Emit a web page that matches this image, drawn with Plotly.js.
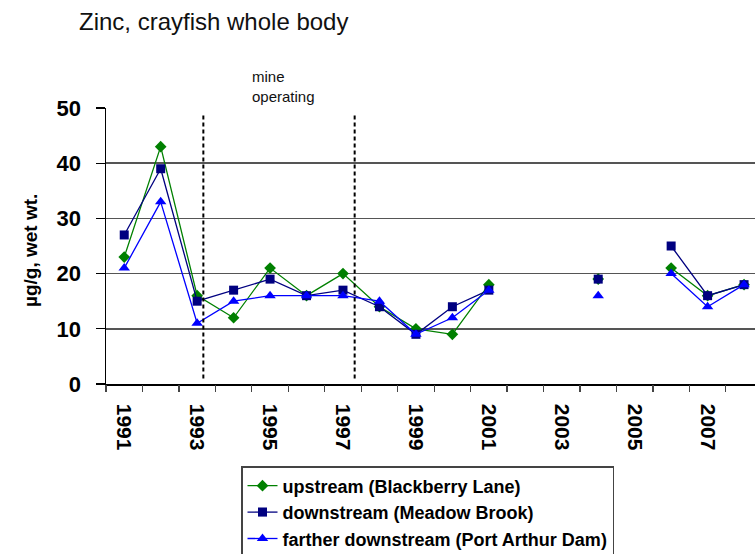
<!DOCTYPE html>
<html>
<head>
<meta charset="utf-8">
<script src="https://cdn.plot.ly/plotly-3.0.1.min.js"></script>
<style>html,body{margin:0;padding:0;background:#fff;}#chart{width:755px;height:554px;}</style>
</head>
<body>
<div id="chart"></div>
<script>
var years = [1991,1992,1993,1994,1995,1996,1997,1998,1999,2000,2001,2002,2003,2004,2005,2006,2007,2008];
var upstream = [23,43,16,12,21,16,20,14,10,9,18,null,null,19,null,21,16,18];
var downstream = [27,39,15,17,19,16,17,14,9,14,17,null,null,19,null,25,16,18];
var fartherDownstream = [21,33,11,15,16,16,16,15,9,12,17,null,null,16,null,20,14,18];
var tickYears = [1991,1993,1995,1997,1999,2001,2003,2005,2007];
var tickLabels = ['1991','1993','1995','1997','1999','2001','2003','2005','2007'];
var mineOperating = [1993.17, 1997.32];
var seriesNames = ['upstream (Blackberry Lane)','downstream (Meadow Brook)','farther downstream (Port Arthur Dam)'];

var boundaries = years.map(function(y){return y-0.5;}).concat([years[years.length-1]+0.5]);

var font = 'Arial, "Liberation Sans", sans-serif';
var traces = [
  {x: years, y: upstream, name: seriesNames[0], mode:'lines+markers', legendgroup:'a',
   line:{color:'#008000', width:1.3}, marker:{symbol:'diamond', size:9, color:'#008000'}, connectgaps:false},
  {x: years, y: downstream, name: seriesNames[1], mode:'lines+markers', legendgroup:'b',
   line:{color:'#000080', width:1.3}, marker:{symbol:'square', size:9, color:'#000080'}, connectgaps:false},
  {x: years, y: fartherDownstream, name: seriesNames[2], mode:'lines+markers', legendgroup:'c',
   line:{color:'#0000FF', width:1.3}, marker:{symbol:'triangle-up', size:10, color:'#0000FF'}, connectgaps:false},
  {x: boundaries, y: boundaries.map(function(){return null;}), xaxis:'x2', showlegend:false, hoverinfo:'skip', mode:'lines'}
];

var shapes = mineOperating.map(function(x){
  return {type:'line', xref:'x', yref:'y', x0:x, x1:x, y0:1, y1:48.7,
          line:{color:'#000', width:2, dash:'4px,3px'}};
});

var layout = {
  width:755, height:554,
  margin:{l:106, r:0, t:108, b:170, autoexpand:false},
  paper_bgcolor:'#fff', plot_bgcolor:'#fff',
  font:{family:font, color:'#000'},
  title:{text:'Zinc, crayfish whole body', font:{family:font, size:24, color:'#111'},
         xref:'container', yref:'container', x:79/755, xanchor:'left', y:1-22/554, yanchor:'middle'},
  xaxis:{range:[1990.5, 2008.3], tickmode:'array', tickvals:tickYears, ticktext:tickLabels,
         tickangle:90, ticks:'outside', ticklen:14, tickcolor:'rgba(0,0,0,0)',
         tickfont:{family:font, size:21, color:'#000', weight:'bold'},
         showgrid:false, zeroline:false, showline:true, linecolor:'#000', linewidth:1.5},
  xaxis2:{overlaying:'x', range:[1990.5, 2008.3], tickmode:'array', tickvals:boundaries,
          showticklabels:false, ticks:'outside', ticklen:7, tickcolor:'#444', tickwidth:1.2,
          showgrid:false, zeroline:false, showline:false, side:'bottom'},
  yaxis:{range:[0,50], tickvals:[0,10,20,30,40,50], ticks:'outside', ticklen:9, tickcolor:'#000', tickwidth:1.2,
         ticklabelstandoff:10,
         tickfont:{family:font, size:22, color:'#000', weight:'bold'},
         showgrid:true, gridcolor:'#555', gridwidth:1.6, zeroline:false,
         showline:true, linecolor:'#000', linewidth:1.5},
  shapes: shapes,
  annotations:[
    {text:'µg/g, wet wt.', xref:'paper', yref:'paper', x:(30-106)/649, y:(384-251)/276,
     xanchor:'center', yanchor:'middle', textangle:-90, showarrow:false,
     font:{family:font, size:19, color:'#000', weight:'bold'}},
    {text:'mine<br>operating', xref:'paper', yref:'paper', x:(250-106)/649, y:(384-66)/276,
     xanchor:'left', yanchor:'top', align:'left', showarrow:false,
     font:{family:font, size:15, color:'#111'}}
  ],
  legend:{x:(241-106)/649, y:(384-466)/276, xanchor:'left', yanchor:'top',
          bordercolor:'#444', borderwidth:1.5, bgcolor:'#fff', tracegroupgap:0, traceorder:'grouped',
          font:{family:font, size:18, color:'#000', weight:'bold'}},
  showlegend:true
};

Plotly.newPlot('chart', traces, layout, {displayModeBar:false, staticPlot:true});
</script>
</body>
</html>
